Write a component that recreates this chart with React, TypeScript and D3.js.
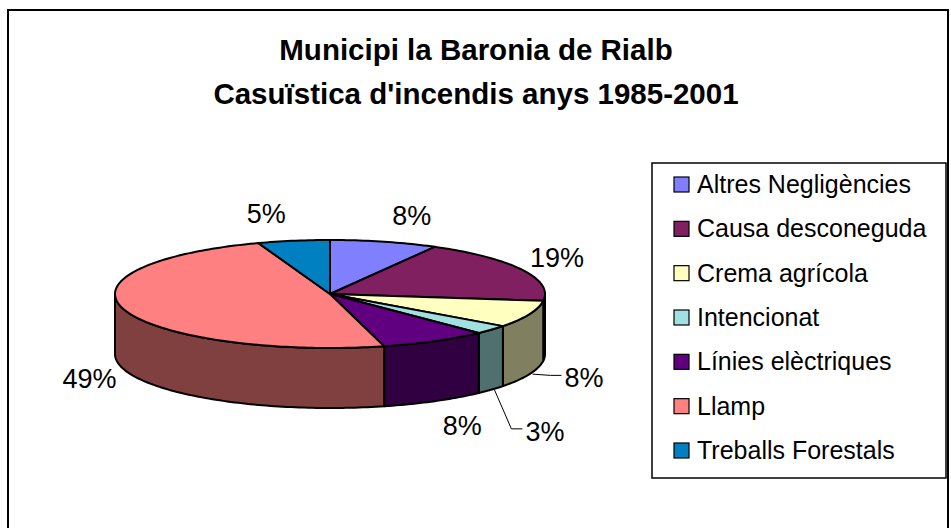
import { useEffect, useRef } from "react";
import * as d3 from "d3";

// fire counts per cause, 1985-2001
const categories = [
  "Altres Negligències",
  "Causa desconeguda",
  "Crema agrícola",
  "Intencionat",
  "Línies elèctriques",
  "Llamp",
  "Treballs Forestals",
];
const counts = [3, 7, 3, 1, 3, 18, 2];
const colors = ["#8080FF", "#802060", "#FFFFC0", "#A0E0E0", "#600080", "#FF8080", "#0080C0"];
const titleLines = ["Municipi la Baronia de Rialb", "Casuïstica d'incendis anys 1985-2001"];

// labels that Excel pulled out with a leader line
const leaderNudge: Record<string, [number, number]> = {
  "Crema agrícola": [27, -7],
  Intencionat: [26, 23],
};

const W = 951;
const H = 528;

const App = () => {
  const ref = useRef<SVGSVGElement>(null);

  useEffect(() => {
    const svg = d3.select(ref.current);
    svg.selectAll("*").remove();

    const font = "'Liberation Sans', Arial, sans-serif";
    const cx = 330;
    const cy = 294;
    const rx = 215;
    const ry = 54;
    const depth = 60;

    // chart frame
    svg
      .append("rect")
      .attr("x", 8)
      .attr("y", 10)
      .attr("width", 940)
      .attr("height", 560)
      .attr("fill", "#fff")
      .attr("stroke", "#000")
      .attr("stroke-width", 2);

    // title
    svg
      .append("g")
      .selectAll("text")
      .data(titleLines)
      .join("text")
      .attr("x", 476)
      .attr("y", (_, i) => 60 + i * 44)
      .attr("text-anchor", "middle")
      .attr("font-family", font)
      .attr("font-weight", "bold")
      .attr("font-size", 29.5)
      .text((d) => d);

    const total = d3.sum(counts);
    const data = categories.map((name, i) => ({ name, value: counts[i], color: colors[i] }));
    const arcs = d3
      .pie<(typeof data)[number]>()
      .sort(null)
      .value((d) => d.value)
      .startAngle(0)
      .endAngle(2 * Math.PI)(data);

    const pt = (a: number, dy = 0): [number, number] => [cx + rx * Math.sin(a), cy - ry * Math.cos(a) + dy];
    const arcPts = (a0: number, a1: number, dy = 0) => {
      const n = Math.max(2, Math.ceil(Math.abs(a1 - a0) / 0.02));
      return d3.range(n + 1).map((k) => pt(a0 + ((a1 - a0) * k) / n, dy));
    };
    const line = d3.line();

    const g = svg.append("g");

    // side walls (front half only)
    arcs.forEach((d) => {
      const s = Math.max(d.startAngle, Math.PI / 2);
      const e = Math.min(d.endAngle, (3 * Math.PI) / 2);
      if (e <= s) return;
      const c = d3.rgb(d.data.color);
      const side = d3.rgb(c.r / 2, c.g / 2, c.b / 2);
      const pts = [...arcPts(s, e), ...arcPts(e, s, depth)];
      g.append("path")
        .attr("d", line(pts) + "Z")
        .attr("fill", side.formatHex())
        .attr("stroke", "#000")
        .attr("stroke-width", 2)
        .attr("stroke-linejoin", "round");
    });

    // top faces
    arcs.forEach((d) => {
      const pts: [number, number][] = [[cx, cy], ...arcPts(d.startAngle, d.endAngle)];
      g.append("path")
        .attr("d", line(pts) + "Z")
        .attr("fill", d.data.color)
        .attr("stroke", "#000")
        .attr("stroke-width", 2)
        .attr("stroke-linejoin", "round");
    });

    // data labels
    const fs = 27;
    arcs.forEach((d) => {
      const mid = (d.startAngle + d.endAngle) / 2;
      const sin = Math.sin(mid);
      const cos = Math.cos(mid);
      const txt = `${Math.round((d.data.value / total) * 100)}%`;
      const front = cos < 0;
      const [px, py] = pt(mid, front ? depth : 0);
      let lx = px + Math.sign(sin) * 8;
      let ly = py - cos * (fs / 2 + 14);
      const nudge = leaderNudge[d.data.name];
      if (nudge) {
        lx += nudge[0];
        ly += nudge[1];
        svg
          .append("path")
          .attr("d", line([[px + 3, py], [lx - 14, ly - 2], [lx - 3, ly - 2]]))
          .attr("fill", "none")
          .attr("stroke", "#000")
          .attr("stroke-width", 1);
      }
      svg
        .append("text")
        .attr("x", lx)
        .attr("y", ly)
        .attr("dy", "0.36em")
        .attr("text-anchor", sin < 0 ? "end" : "start")
        .attr("font-family", font)
        .attr("font-size", fs)
        .text(txt);
    });

    // legend
    const lg = svg.append("g");
    lg.append("rect")
      .attr("x", 652)
      .attr("y", 163)
      .attr("width", 294)
      .attr("height", 315)
      .attr("fill", "#fff")
      .attr("stroke", "#000")
      .attr("stroke-width", 1.5);
    const y = d3.scalePoint<string>().domain(categories).range([184, 450]);
    const item = lg
      .selectAll("g.item")
      .data(data)
      .join("g")
      .attr("class", "item")
      .attr("transform", (d) => `translate(0,${y(d.name)})`);
    item
      .append("rect")
      .attr("x", 674)
      .attr("y", -7)
      .attr("width", 15)
      .attr("height", 15)
      .attr("fill", (d) => d.color)
      .attr("stroke", "#000")
      .attr("stroke-width", 1.2);
    item
      .append("text")
      .attr("x", 697)
      .attr("dy", "0.36em")
      .attr("font-family", font)
      .attr("font-size", 25)
      .text((d) => d.name);
  }, []);

  return (
    <svg
      ref={ref}
      width={W}
      height={H}
      style={{ position: "absolute", left: 0, top: 0, background: "#fff" }}
    />
  );
};

export default App;
